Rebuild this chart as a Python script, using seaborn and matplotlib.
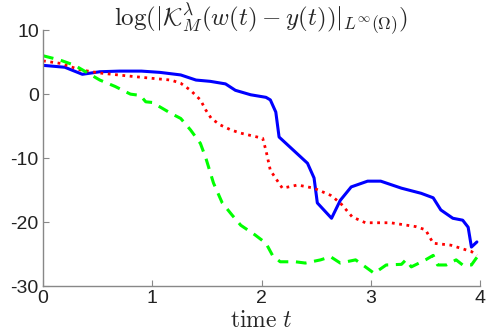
import numpy as np
import pandas as pd
import matplotlib
matplotlib.use('Agg')
import matplotlib.pyplot as plt
import seaborn as sns

# Values
t_blue = [0.0, 0.2, 0.36, 0.52, 0.7, 0.9, 1.07, 1.26, 1.4, 1.53, 1.67, 1.76, 1.9, 2.04,
          2.08, 2.13, 2.16, 2.42, 2.48, 2.51, 2.64, 2.72, 2.82, 2.97, 3.09, 3.28, 3.46,
          3.57, 3.64, 3.75, 3.84, 3.89, 3.92, 3.97]
y_blue = [4.5, 4.2, 3.1, 3.5, 3.6, 3.6, 3.4, 3.0, 2.2, 2.0, 1.6, 0.6, -0.1, -0.5,
          -0.9, -2.8, -6.7, -10.8, -13.1, -17.0, -19.4, -16.6, -14.5, -13.6, -13.6, -14.7, -15.5,
          -16.2, -18.1, -19.4, -19.7, -20.8, -23.9, -23.1]

t_red = [0.0, 0.16, 0.34, 0.52, 0.8, 0.98, 1.17, 1.26, 1.35, 1.44, 1.49, 1.54, 1.62, 1.72,
         1.81, 2.01, 2.04, 2.08, 2.19, 2.33, 2.48, 2.63, 2.72, 2.83, 2.95, 3.18, 3.41,
         3.5, 3.57, 3.73, 3.92, 3.97]
y_red = [5.2, 4.8, 3.8, 3.3, 2.8, 2.5, 2.2, 1.7, 0.6, -0.9, -2.5, -3.8, -4.8, -5.6,
         -6.1, -6.9, -8.8, -11.9, -14.7, -14.2, -14.7, -15.8, -17.0, -19.2, -20.1, -20.1, -20.7,
         -21.2, -23.3, -23.6, -24.6, -25.2]

t_green = [0.0, 0.16, 0.29, 0.43, 0.52, 0.66, 0.8, 0.89, 0.94, 1.0, 1.17, 1.26, 1.35, 1.44,
           1.49, 1.56, 1.64, 1.73, 1.81, 1.94, 2.04, 2.1, 2.17, 2.31, 2.4, 2.54, 2.63,
           2.72, 2.86, 2.95, 3.03, 3.14, 3.28, 3.32, 3.37, 3.5, 3.57, 3.61, 3.69, 3.78,
           3.84, 3.92, 3.97]
y_green = [6.0, 5.3, 4.5, 3.1, 2.2, 1.2, 0.0, -0.2, -1.2, -1.3, -3.0, -3.8, -5.6, -7.7,
           -10.0, -13.9, -17.0, -18.9, -20.5, -22.0, -23.3, -25.2, -26.2, -26.2, -26.4, -25.9, -25.4,
           -26.4, -25.9, -27.0, -28.0, -26.7, -26.6, -25.9, -27.0, -25.9, -25.2, -26.7, -26.7, -25.9,
           -26.7, -26.7, -25.5]

x_ticks = [0, 1, 2, 3, 4]
y_ticks = [-30, -20, -10, 0, 10]

sns.set_style('white')
plt.rcParams['font.family'] = ['Liberation Sans', 'DejaVu Sans']
plt.rcParams['mathtext.fontset'] = 'cm'
plt.rcParams['axes.unicode_minus'] = False

fig = plt.figure(figsize=(4.86, 3.35), dpi=100)
ax = fig.add_axes([0.0885, 0.146, 0.8995, 0.764])

sns.lineplot(x=t_blue, y=y_blue, ax=ax, color='#0000ff', linewidth=2.2, estimator=None, sort=False)
sns.lineplot(x=t_red, y=y_red, ax=ax, color='#ff0000', linewidth=2, linestyle=':',
             estimator=None, sort=False)
sns.lineplot(x=t_green, y=y_green, ax=ax, color='#00ff00', linewidth=2.2, linestyle=(0, (3.5, 2.5)),
             estimator=None, sort=False)

ax.set_xlim(0, 4)
ax.set_ylim(-30, 10)
ax.set_xticks(x_ticks)
ax.set_yticks(y_ticks)
ax.tick_params(bottom=True, left=True, direction='in', length=4, width=0.8, color='#888888',
               labelsize=14, labelcolor='#222222', pad=3)
for side in ['top', 'right']:
    ax.spines[side].set_visible(False)
for side in ['left', 'bottom']:
    ax.spines[side].set_color('#888888')
    ax.spines[side].set_linewidth(1.0)

ax.set_title(r'$\log(|\mathcal{K}_M^\lambda(w(t)-y(t))|_{L^\infty(\Omega)})$', fontsize=18, pad=3)
ax.set_xlabel(r'$\mathrm{time}\ t$', fontsize=17, labelpad=2)

fig.savefig('out.png', dpi=100)
